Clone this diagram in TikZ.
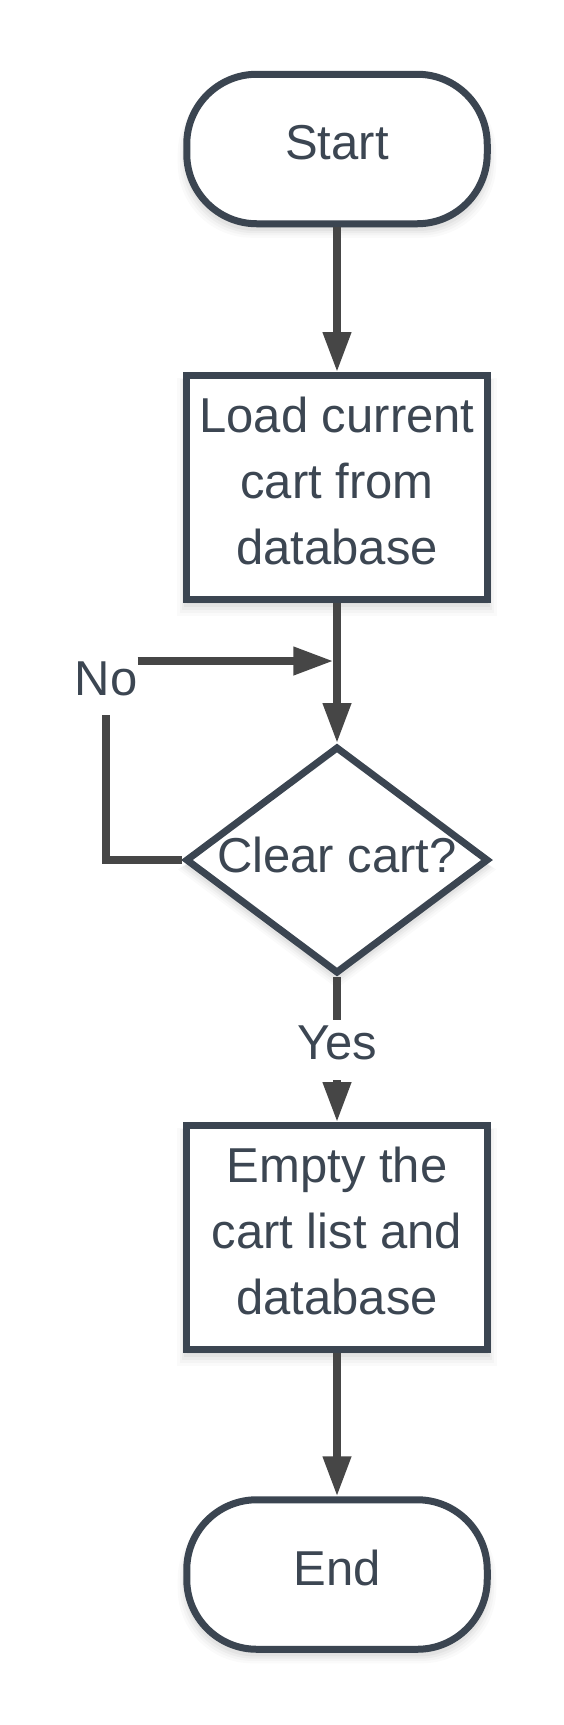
\documentclass[tikz,border=0pt]{standalone}
\usepackage{fontspec}
\setmainfont{Liberation Sans}
\usetikzlibrary{arrows.meta,shapes.geometric,shadows}
\definecolor{bord}{HTML}{3B4551}
\definecolor{txt}{HTML}{3C4652}
\definecolor{arr}{HTML}{464646}
\begin{document}
\begin{tikzpicture}[x=1pt,y=-1pt,
  softshadow/.style={
    general shadow={fill=black,opacity=0.04,shadow yshift=-4pt,shadow scale=1.0},
    general shadow={fill=black,opacity=0.035,shadow yshift=-6pt,shadow scale=1.015},
    general shadow={fill=black,opacity=0.03,shadow yshift=-7pt,shadow scale=1.03},
    general shadow={fill=black,opacity=0.025,shadow yshift=-8pt,shadow scale=1.045},
    general shadow={fill=black,opacity=0.02,shadow yshift=-9pt,shadow scale=1.06}},
  basefont/.style={font=\fontsize{49}{66}\selectfont, text=txt},
  shapebase/.style={basefont, draw=bord, line width=7pt, fill=white, inner sep=0pt,
    align=center, text depth=13pt, softshadow},
  term/.style={shapebase, rectangle, rounded corners=70pt, minimum width=300.5pt, minimum height=149.5pt},
  procbox/.style={shapebase, rectangle, minimum width=301pt, minimum height=224pt},
  decbox/.style={shapebase, diamond, minimum width=303pt, minimum height=227pt},
  lbl/.style={basefont, inner sep=0pt},
  conn/.style={draw=arr, line width=7.5pt},
  tip/.style={-{Triangle[width=27pt,length=40pt]}}
]
\useasboundingbox (0,0) rectangle (563,1725);

\node[term] (start) at (337,149) {Start};
\node[procbox] (load) at (337,487.5) {Load current\\cart from\\database};
\node[decbox] (dec) at (337,860) {};
\node[lbl, text depth=11pt] (dectext) at (337,860) {Clear cart?};
\node[procbox] (empty) at (337,1237.5) {Empty the\\cart list and\\database};
\node[term] (end) at (337,1574.5) {End};
\node[lbl, anchor=base, text depth=20pt] (no) at (106,695) {No};
\node[lbl, anchor=base, text height=39pt, text depth=21pt] (yes) at (337,1059) {Yes};
\coordinate (join) at (333.25,661);

\draw[conn, tip] (start.south) -- (load.north);
\draw[conn, tip] (load.south) -- (dec.north);
\draw[conn] (dec.west) -| (no.south);
\draw[conn, tip] (no.east |- join) -- (join);
\draw[conn] (dec.south) -- (yes.north);
\draw[conn, tip] (yes.south) -- (empty.north);
\draw[conn, tip] (empty.south) -- (end.north);
\end{tikzpicture}
\end{document}
